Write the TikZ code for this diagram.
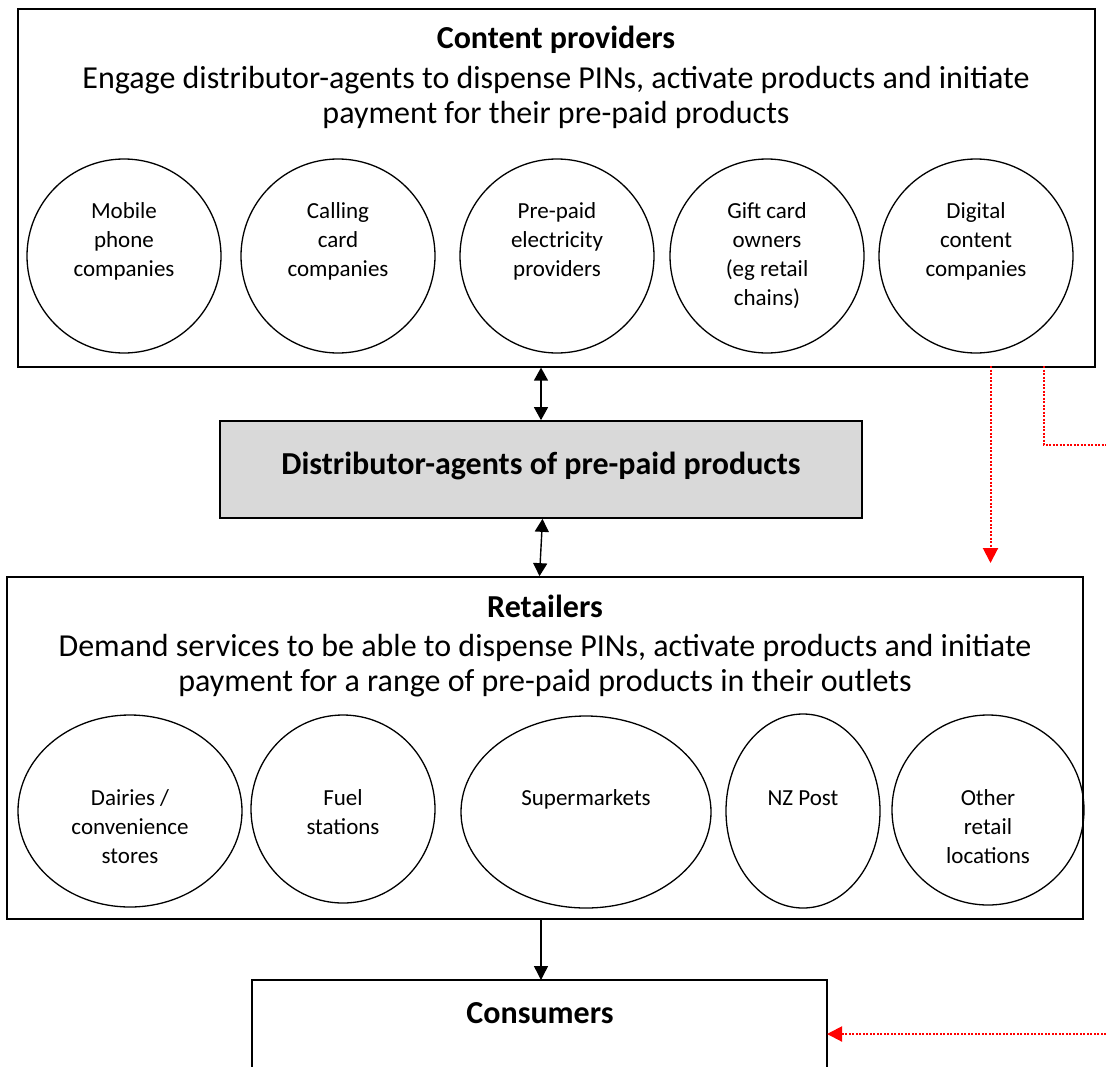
\documentclass[tikz,border=0pt]{standalone}
\usepackage{fontspec}
\setmainfont{Carlito}
\usetikzlibrary{arrows.meta}
\definecolor{midgray}{HTML}{D9D9D9}
\begin{document}
\begin{tikzpicture}[x=1pt,y=-1pt,
  box/.style={draw,line width=1.7pt},
  bigtxt/.style={font=\fontsize{32}{35.5}\selectfont,align=center,inner sep=0pt,anchor=base},
  ovaltxt/.style={font=\fontsize{23}{29}\selectfont,align=center,inner sep=0pt,anchor=base},
  oval/.style={draw,line width=1.3pt},
  blk/.style={line width=1.4pt,-{Triangle[length=14pt,width=14pt]}},
  dblk/.style={line width=1.4pt,{Triangle[length=13pt,width=14pt]}-{Triangle[length=13pt,width=14pt]}},
  reddot/.style={red,line width=2pt,dash pattern=on 2pt off 1.5pt},
  redarr/.style={reddot,-{Triangle[length=15pt,width=15pt,sep=0pt]}}
]
\useasboundingbox (0,0) rectangle (1106,1066);
% content providers
\node[box,minimum width=1077pt,minimum height=357.5pt,inner sep=0pt] (cp) at (556.5,188) {};
\node[bigtxt] (cpT) at (556,48) {\textbf{Content providers}};
\node[bigtxt] (cpL) at (556,123.5) {Engage distributor-agents to dispense PINs, activate products and initiate\\payment for their pre-paid products};

% distributor-agents
\node[draw,line width=1.7pt,fill=midgray,minimum width=642pt,minimum height=97pt,inner sep=0pt] (dist) at (541,469.5) {};
\node[bigtxt] (distT) at (541,474) {\textbf{Distributor-agents of pre-paid products}};

% retailers
\node[box,minimum width=1076pt,minimum height=342pt,inner sep=0pt] (rt) at (545,748) {};
\node[bigtxt] (rtT) at (545,617) {\textbf{Retailers}};
\node[bigtxt] (rtL) at (545,691.5) {Demand services to be able to dispense PINs, activate products and initiate\\payment for a range of pre-paid products in their outlets};

% consumers (cut by the page edge)
\draw[box] (252,1075) -- (252,980) -- (827,980) -- (827,1075);
\coordinate (consN) at (541,980);
\coordinate (consE) at (827,1034);
\node[bigtxt] (cons) at (540,1023) {\textbf{Consumers}};

% content provider circles
\draw[oval] (124,256) circle [radius=97];
\draw[oval] (338,256) circle [radius=97];
\draw[oval] (557,256) circle [radius=97];
\draw[oval] (767,256) circle [radius=97];
\draw[oval] (976,256) circle [radius=97];
\node[ovaltxt] (t1) at (124,276) {Mobile\\phone\\companies};
\node[ovaltxt] (t2) at (338,276) {Calling\\card\\companies};
\node[ovaltxt] (t3) at (557,276) {Pre-paid\\electricity\\providers};
\node[ovaltxt] (t4) at (767,305) {Gift card\\owners\\(eg retail\\chains)};
\node[ovaltxt] (t5) at (976,276) {Digital\\content\\companies};

% retailer ellipses
\draw[oval] (130,811) ellipse [x radius=112, y radius=96];
\draw[oval] (343,809) ellipse [x radius=92, y radius=94];
\draw[oval] (586,812) ellipse [x radius=125, y radius=96];
\draw[oval] (803,811) ellipse [x radius=77, y radius=97];
\draw[oval] (988,810) ellipse [x radius=96, y radius=95];
\node[ovaltxt] (e1) at (130,863) {Dairies /\\convenience\\stores};
\node[ovaltxt] (e2) at (343,834) {Fuel\\stations};
\node[ovaltxt] (e3) at (586,805) {Supermarkets};
\node[ovaltxt] (e4) at (803,805) {NZ Post};
\node[ovaltxt] (e5) at (988,863) {Other\\retail\\locations};

% black connectors
\draw[dblk] (cp.south -| dist.north) -- (dist.north);
\draw[dblk] ([xshift=1.5pt]dist.south) -- ([xshift=-1.5pt]rt.north -| dist.south);
\draw[blk] (rt.south -| consN) -- (consN);

% red dotted connectors
\coordinate (r1a) at (990.5,366);
\coordinate (r1b) at (990.5,563);
\coordinate (r2a) at (1044,366);
\coordinate (r2b) at (1044,445);
\coordinate (r2c) at (1106,445);
\coordinate (r3a) at (1106,1034);
\draw[redarr] (r1a) -- (r1b);
\draw[reddot] (r2a) -- (r2b) -- (r2c);
\draw[redarr] (r3a) -- (consE);
\end{tikzpicture}
\end{document}
